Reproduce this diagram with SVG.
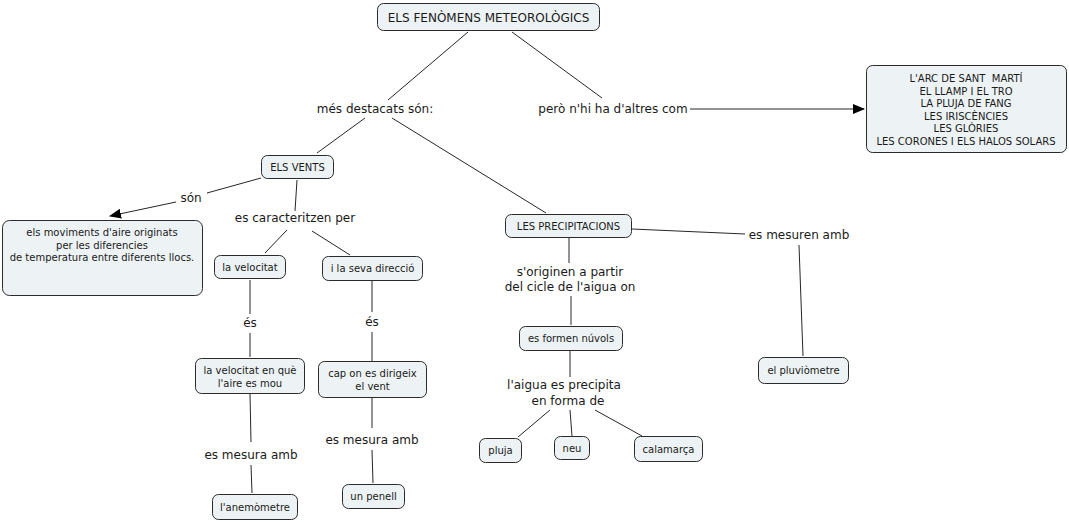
<svg xmlns="http://www.w3.org/2000/svg" width="1069" height="522" viewBox="0 0 1069 522">
<style>
.n rect{fill:#edf3f5;stroke:#2b2b2b;stroke-width:1}
.n text{font-family:"DejaVu Sans",Verdana,sans-serif;font-size:10px;fill:#1a1a1a;text-anchor:middle}
.t text{font-size:12px}
.l{font-family:"DejaVu Sans",Verdana,sans-serif;font-size:12px;fill:#1a1a1a;text-anchor:middle}
#conn line{stroke:#262626;stroke-width:1}
.pre{white-space:pre}
</style>
<defs>
<marker id="ah" markerUnits="userSpaceOnUse" markerWidth="12" markerHeight="10" refX="11" refY="5" orient="auto">
<path d="M0,0 L12,5 L0,10 Z" fill="#000"/>
</marker>
</defs>
<rect width="1069" height="522" fill="#fff"/>
<g id="conn">
<line x1="468" y1="32" x2="388" y2="100"/>
<line x1="512" y1="32" x2="602" y2="98"/>
<line x1="690" y1="109" x2="864" y2="109" marker-end="url(#ah)"/>
<line x1="365" y1="118" x2="317" y2="153"/>
<line x1="392" y1="118" x2="546" y2="213"/>
<line x1="261" y1="178" x2="207" y2="193"/>
<line x1="176" y1="202" x2="110" y2="216" marker-end="url(#ah)"/>
<line x1="297" y1="180" x2="295" y2="211"/>
<line x1="287" y1="230" x2="265" y2="253"/>
<line x1="312" y1="231" x2="350" y2="255"/>
<line x1="250" y1="280" x2="250" y2="314"/>
<line x1="250" y1="333" x2="250" y2="357"/>
<line x1="372" y1="281" x2="372" y2="312"/>
<line x1="372" y1="332" x2="372" y2="361"/>
<line x1="250" y1="394" x2="251" y2="442"/>
<line x1="251" y1="465" x2="252" y2="493"/>
<line x1="372" y1="398" x2="372" y2="428"/>
<line x1="372" y1="450" x2="373" y2="483"/>
<line x1="569" y1="238" x2="569" y2="263"/>
<line x1="571" y1="296" x2="571" y2="325"/>
<line x1="570" y1="351" x2="570" y2="377"/>
<line x1="550" y1="410" x2="518" y2="437"/>
<line x1="570" y1="410" x2="572" y2="436"/>
<line x1="595" y1="410" x2="642" y2="436"/>
<line x1="632" y1="229" x2="745" y2="234"/>
<line x1="799" y1="245" x2="803" y2="356"/>
</g>
<g class="l">
<text x="375" y="113">més destacats són:</text>
<text x="613" y="113">però n'hi ha d'altres com</text>
<text x="191" y="202">són</text>
<text x="295" y="222">es caracteritzen per</text>
<text x="250" y="327">és</text>
<text x="372" y="326">és</text>
<text x="251" y="459">es mesura amb</text>
<text x="372" y="444">es mesura amb</text>
<text x="570" y="276">s'originen a partir</text>
<text x="570" y="291">del cicle de l'aigua on</text>
<text x="564" y="389">l'aigua es precipita</text>
<text x="568" y="405">en forma de</text>
<text x="799" y="239">es mesuren amb</text>
</g>
<g id="n-title" class="n t"><rect x="377.5" y="3.5" width="222" height="27" rx="6"/><text x="488.5" y="21.5">ELS FENÒMENS METEOROLÒGICS</text></g>
<g id="n-altres" class="n"><rect x="866.5" y="65.5" width="200" height="87" rx="6"/>
<text x="966" y="82" class="pre" xml:space="preserve">L'ARC DE SANT  MARTÍ</text>
<text x="966" y="94.5">EL LLAMP I EL TRO</text>
<text x="966" y="107">LA PLUJA DE FANG</text>
<text x="966" y="119.5">LES IRISCÈNCIES</text>
<text x="966" y="132">LES GLÒRIES</text>
<text x="966" y="144.5">LES CORONES I ELS HALOS SOLARS</text>
</g>
<g id="n-vents" class="n"><rect x="261.5" y="155.5" width="72" height="23" rx="6"/><text x="297.5" y="171">ELS VENTS</text></g>
<g id="n-moviments" class="n"><rect x="2.5" y="220.5" width="200" height="75" rx="7"/>
<text x="102" y="236">els moviments d'aire originats</text>
<text x="102" y="248.5">per les diferencies</text>
<text x="102" y="261">de temperatura entre diferents llocs.</text>
</g>
<g id="n-velocitat" class="n"><rect x="214.5" y="255.5" width="71" height="23" rx="6"/><text x="250" y="271">la velocitat</text></g>
<g id="n-direccio" class="n"><rect x="322.5" y="256.5" width="100" height="24" rx="6"/><text x="372.5" y="272">i la seva direcció</text></g>
<g id="n-velaire" class="n"><rect x="195.5" y="358.5" width="109" height="35" rx="6"/><text x="250" y="374">la velocitat en què</text><text x="250" y="387">l'aire es mou</text></g>
<g id="n-caponvent" class="n"><rect x="318.5" y="361.5" width="108" height="36" rx="6"/><text x="372.5" y="377">cap on es dirigeix</text><text x="372.5" y="390">el vent</text></g>
<g id="n-anemometre" class="n"><rect x="212.5" y="494.5" width="85" height="25" rx="6"/><text x="255" y="511">l'anemòmetre</text></g>
<g id="n-penell" class="n"><rect x="342.5" y="484.5" width="62" height="24" rx="6"/><text x="373.5" y="500">un penell</text></g>
<g id="n-precip" class="n"><rect x="505.5" y="214.5" width="126" height="23" rx="6"/><text x="568.5" y="230">LES PRECIPITACIONS</text></g>
<g id="n-nuvols" class="n"><rect x="519.5" y="326.5" width="103" height="24" rx="6"/><text x="571" y="342">es formen núvols</text></g>
<g id="n-pluja" class="n"><rect x="479.5" y="438.5" width="42" height="24" rx="6"/><text x="500.5" y="454">pluja</text></g>
<g id="n-neu" class="n"><rect x="554.5" y="436.5" width="35" height="23" rx="6"/><text x="572" y="452">neu</text></g>
<g id="n-calamarca" class="n"><rect x="634.5" y="436.5" width="68" height="25" rx="6"/><text x="668.5" y="453">calamarça</text></g>
<g id="n-pluviometre" class="n"><rect x="758.5" y="357.5" width="90" height="26" rx="6"/><text x="803.5" y="374">el pluviòmetre</text></g>
</svg>
